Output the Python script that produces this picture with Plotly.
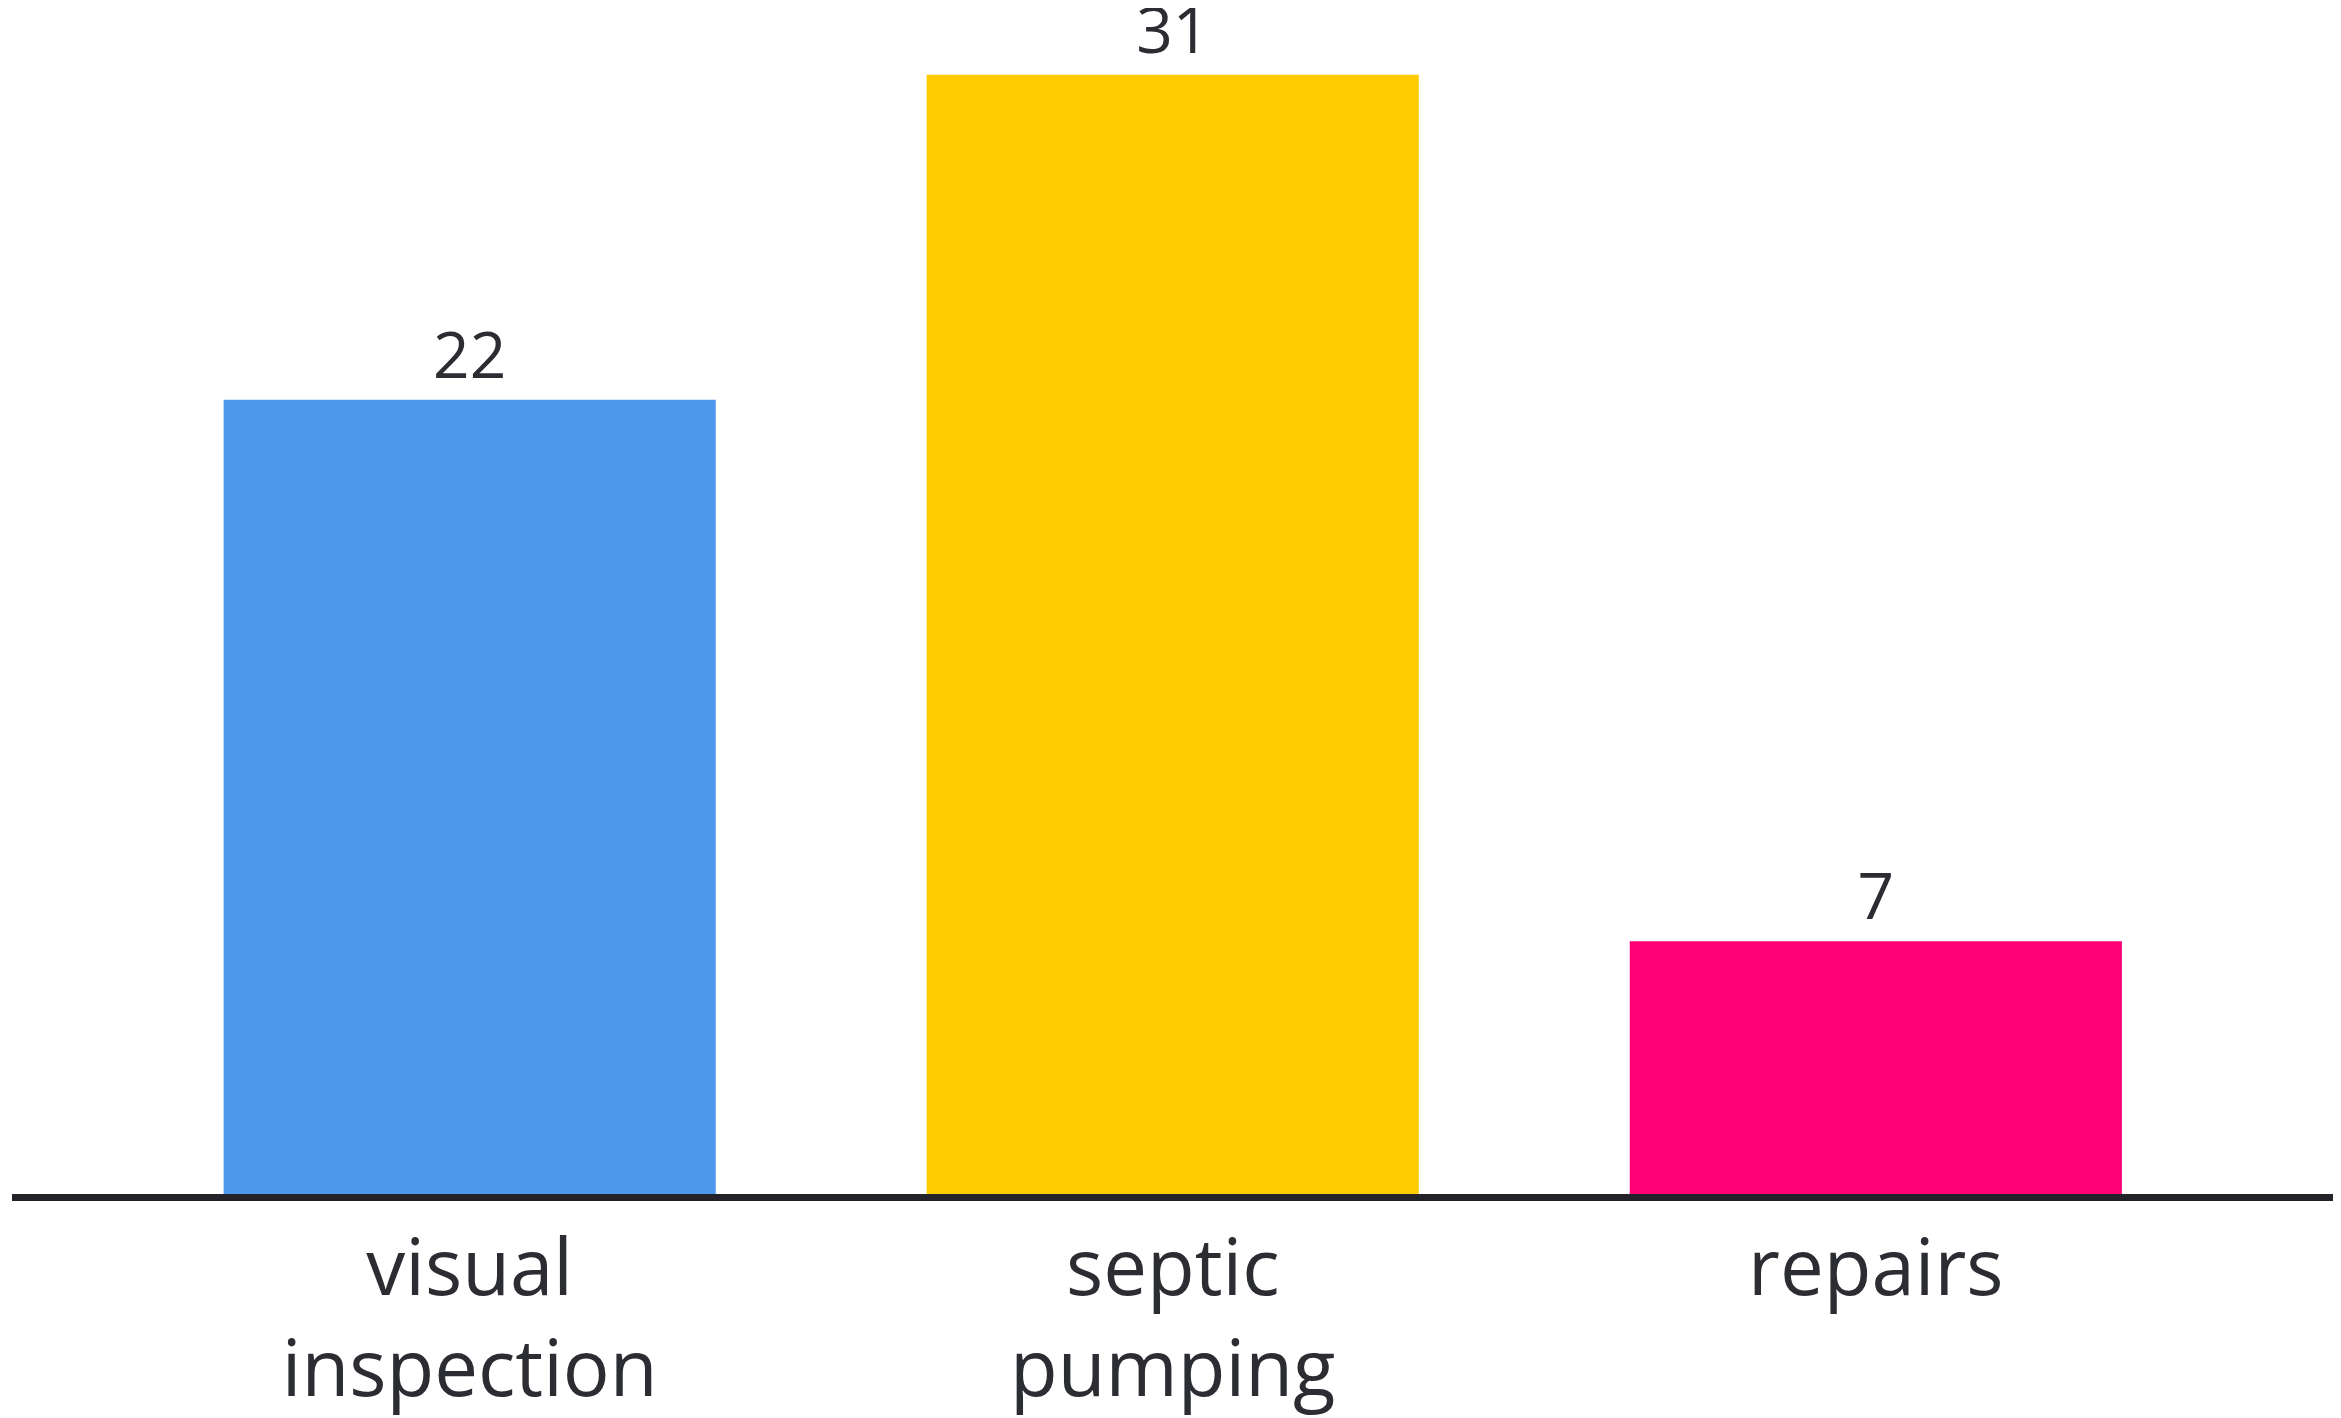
import plotly.graph_objects as go

categories = ["visual<br>inspection", "septic<br>pumping", "repairs"]
values = [22, 31, 7]
colors = ["#4E98EC", "#FECC00", "#FF0077"]

fig = go.Figure(go.Bar(
    x=categories,
    y=values,
    marker=dict(color=colors, line=dict(width=0)),
    text=[str(v) for v in values],
    textposition="outside",
    cliponaxis=False,
    textfont=dict(family="Open Sans", size=64, color="#2B2D33"),
))

fig.update_layout(
    width=2333,
    height=1410,
    margin=dict(l=4, r=4, t=0, b=224),
    paper_bgcolor="white",
    plot_bgcolor="white",
    bargap=0.3,
    showlegend=False,
    font=dict(family="Open Sans", color="#2B2D33"),
)
fig.update_xaxes(
    range=[-0.651, 2.656],
    showline=True,
    linecolor="#222228",
    linewidth=7,
    showgrid=False,
    zeroline=False,
    ticks="",
    tickfont=dict(family="Open Sans", size=78, color="#2B2D33"),
)
fig.update_yaxes(
    range=[0, 32.85],
    visible=False,
    showgrid=False,
    zeroline=False,
)

fig.write_html("out.html")
